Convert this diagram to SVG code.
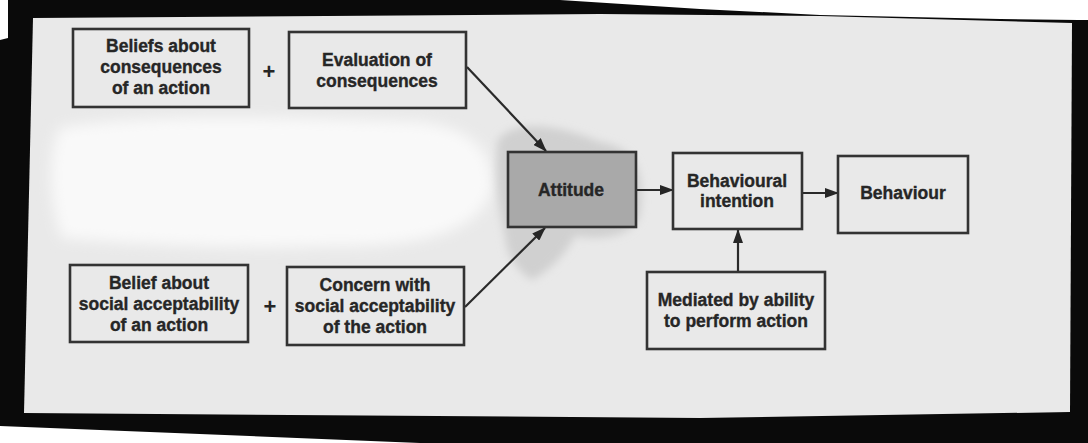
<svg xmlns="http://www.w3.org/2000/svg" width="1088" height="443" viewBox="0 0 1088 443">
<defs>
<style>
.box{fill:none;stroke:#333333;stroke-width:2.6}
.t{font-family:"Liberation Sans",Arial,Helvetica,sans-serif;font-weight:bold;font-size:17.5px;fill:#262626;stroke:#262626;stroke-width:0.35;text-anchor:middle}
.plus{font-family:"Liberation Sans",Arial,sans-serif;font-weight:bold;font-size:22px;fill:#262626;text-anchor:middle}
.edge{stroke:#2a2a2a;stroke-width:2.2;fill:none}
</style>
<marker id="ah" viewBox="0 0 14 10" refX="13" refY="5" markerWidth="14" markerHeight="10" markerUnits="userSpaceOnUse" orient="auto">
<path d="M0,0 L14,5 L0,10 z" fill="#262626"/>
</marker>
<filter id="soft" x="-20%" y="-20%" width="140%" height="140%"><feGaussianBlur stdDeviation="7"/></filter>
<filter id="soft2" x="-20%" y="-20%" width="140%" height="140%"><feGaussianBlur stdDeviation="4"/></filter>
</defs>

<!-- background and photo frame -->
<rect x="0" y="0" width="1088" height="443" fill="#ffffff"/>
<polygon points="8,0 560,0 700,9 820,15 1000,19 1078,20 1088,20 1088,443 420,443 0,426 0,40 8,38" fill="#0a0a0a"/>
<polygon points="33,18 600,14 820,16 1072,23 1070,412 700,418 24,413" fill="#e9e9e9"/>

<!-- paper smudges -->
<path d="M60,128 C150,112 300,118 420,122 C470,128 495,150 492,190 C480,228 430,248 330,246 C230,250 120,243 62,238 C48,200 48,152 60,128 z" fill="#f9f9f9" filter="url(#soft)"/>
<path d="M498,140 C515,118 560,125 600,142 C638,148 645,175 640,215 C632,238 600,240 575,236 C565,255 550,270 532,280 C518,272 506,255 505,235 C498,210 494,170 498,140 z" fill="#d0d0d0" filter="url(#soft2)"/>

<!-- connectors -->
<g id="connectors">
<line class="edge" x1="467" y1="67" x2="546" y2="151" marker-end="url(#ah)"/>
<line class="edge" x1="465" y1="307" x2="545" y2="228" marker-end="url(#ah)"/>
<line class="edge" x1="636" y1="190" x2="673" y2="190" marker-end="url(#ah)"/>
<line class="edge" x1="802" y1="193" x2="838" y2="193" marker-end="url(#ah)"/>
<line class="edge" x1="738" y1="272" x2="738" y2="230" marker-end="url(#ah)"/>
</g>

<g id="node-beliefs">
<rect class="box" x="73" y="29" width="176" height="78"/>
<text class="t" x="161" y="52">Beliefs about</text>
<text class="t" x="161" y="73">consequences</text>
<text class="t" x="161" y="94">of an action</text>
</g>
<text class="plus" x="269" y="79">+</text>

<g id="node-evaluation">
<rect class="box" x="289" y="32" width="177" height="76"/>
<text class="t" x="377" y="66">Evaluation of</text>
<text class="t" x="377" y="87">consequences</text>
</g>

<g id="node-belief-social">
<rect class="box" x="70" y="265" width="178" height="77"/>
<text class="t" x="159" y="289">Belief about</text>
<text class="t" x="159" y="310">social acceptability</text>
<text class="t" x="159" y="331">of an action</text>
</g>
<text class="plus" x="270" y="314">+</text>

<g id="node-concern">
<rect class="box" x="287" y="267" width="177" height="78"/>
<text class="t" x="375" y="291">Concern with</text>
<text class="t" x="375" y="312">social acceptability</text>
<text class="t" x="375" y="333">of the action</text>
</g>

<g id="node-attitude">
<rect x="508" y="152" width="128" height="75" fill="#a9a9a9" stroke="#333333" stroke-width="2.6"/>
<text class="t" x="571" y="196">Attitude</text>
</g>

<g id="node-intention">
<rect class="box" x="673" y="153" width="129" height="76"/>
<text class="t" x="737" y="187">Behavioural</text>
<text class="t" x="737" y="207">intention</text>
</g>

<g id="node-behaviour">
<rect class="box" x="838" y="156" width="130" height="77"/>
<text class="t" x="903" y="199">Behaviour</text>
</g>

<g id="node-mediated">
<rect class="box" x="647" y="272" width="178" height="77"/>
<text class="t" x="736" y="306">Mediated by ability</text>
<text class="t" x="736" y="327">to perform action</text>
</g>
</svg>
